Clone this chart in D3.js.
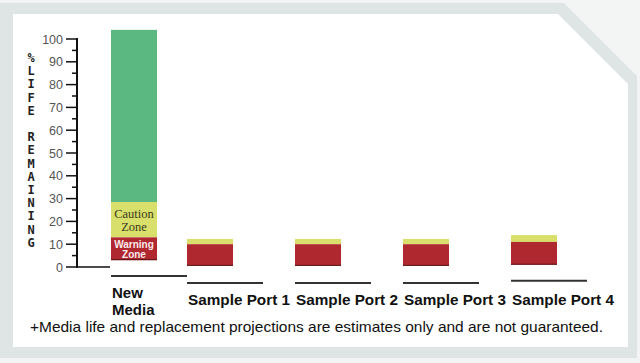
<!DOCTYPE html>
<html>
<head>
<meta charset="utf-8">
<script src="https://cdn.jsdelivr.net/npm/d3@7"></script>
<style>
  html, body { margin: 0; padding: 0; background: #f3f5f5; }
  svg { display: block; }
</style>
</head>
<body>
<div class="chart-container"></div>
<script>
// --- Data ---
const categories = ["New Media", "Sample Port 1", "Sample Port 2", "Sample Port 3", "Sample Port 4"];
// each bar floats: segment [start, end] in % life
const warningZone = [[3, 13], [0.5, 10], [0.5, 10], [0.5, 10], [1, 11]];
const cautionZone = [[13, 28.5], [10, 12.3], [10, 12.3], [10, 12.3], [11, 14]];
const healthyZone = [[28.5, 104], null, null, null, null];
// floor line under each bar (in % units, below zero)
const floorLevel = [-4, -7, -7, -7, -6];
const yTicks = [0, 10, 20, 30, 40, 50, 60, 70, 80, 90, 100];
const yMinorTicks = [5, 15, 25, 35, 45, 55, 65, 75, 85, 95];
const axisTitle = "%LIFE REMAINING";
const footnote = "+Media life and replacement projections are estimates only and are not guaranteed.";

// --- Config ---
const w = 640, h = 363;
const green = "#5bb880", yellow = "#d8df6b", red = "#b0282f";
const labelFont = "Liberation Sans, Arial, sans-serif";

const svg = d3.select(".chart-container").append("svg")
    .attr("width", w)
    .attr("height", h);

// frame
svg.append("polygon")
    .attr("points", "0,3 564,3 637,76 637,358 0,358")
    .attr("fill", "#dfe5e4");
svg.append("polygon")
    .attr("points", "13,14 558,14 628,84 628,347 13,347")
    .attr("fill", "#ffffff");

// scales
const yScale = d3.scaleLinear().domain([0, 100]).range([267, 39]);

const portScale = d3.scaleBand()
    .domain(categories.slice(1))
    .range([187, 557])
    .paddingInner(0.574)
    .paddingOuter(0);
const barW = portScale.bandwidth();
function xPos(c) {
    if (c === categories[0]) return portScale(categories[1]) - 76;
    return portScale(c);
}

// y axis
const axisX = 77;
const gAxis = svg.append("g");
gAxis.append("line")
    .attr("x1", axisX).attr("x2", axisX)
    .attr("y1", yScale(100) - 1).attr("y2", yScale(0) + 1)
    .attr("stroke", "#111").attr("stroke-width", 2);
gAxis.selectAll(".major")
    .data(yTicks)
    .enter()
    .append("line")
    .attr("x1", 66)
    .attr("x2", function (d) { return d === 0 ? 110 : axisX; })
    .attr("y1", function (d) { return yScale(d); })
    .attr("y2", function (d) { return yScale(d); })
    .attr("stroke", "#111").attr("stroke-width", 1.5);
gAxis.selectAll(".minor")
    .data(yMinorTicks)
    .enter()
    .append("line")
    .attr("x1", 72).attr("x2", axisX)
    .attr("y1", function (d) { return yScale(d); })
    .attr("y2", function (d) { return yScale(d); })
    .attr("stroke", "#111").attr("stroke-width", 1.5);
gAxis.selectAll(".lbl")
    .data(yTicks)
    .enter()
    .append("text")
    .text(function (d) { return d; })
    .attr("x", 63)
    .attr("y", function (d) { return yScale(d) + 4.5; })
    .attr("text-anchor", "end")
    .attr("font-family", labelFont)
    .attr("font-size", "12.5px")
    .attr("fill", "#555");

// stacked vertical axis title
const letters = axisTitle.split("");
svg.append("g").selectAll("text")
    .data(letters)
    .enter()
    .append("text")
    .text(function (d) { return d; })
    .attr("x", 31)
    .attr("y", function (d, i) { return 62 + i * 13.2; })
    .attr("text-anchor", "middle")
    .attr("font-family", "DejaVu Sans Mono, monospace")
    .attr("font-weight", "bold")
    .attr("font-size", "12px")
    .attr("fill", "#222");

// floor lines
svg.selectAll(".floor")
    .data(categories)
    .enter()
    .append("line")
    .attr("x1", function (d) { return xPos(d); })
    .attr("x2", function (d) { return xPos(d) + 76; })
    .attr("y1", function (d, i) { return yScale(floorLevel[i]); })
    .attr("y2", function (d, i) { return yScale(floorLevel[i]); })
    .attr("stroke", "#333").attr("stroke-width", 2);

// bar segments
function drawSegments(data, color) {
    svg.append("g").selectAll("rect")
        .data(data.map(function (s, i) { return { s: s, c: categories[i] }; })
            .filter(function (d) { return d.s; }))
        .enter()
        .append("rect")
        .attr("x", function (d) { return xPos(d.c); })
        .attr("y", function (d) { return yScale(d.s[1]); })
        .attr("width", barW)
        .attr("height", function (d) { return yScale(d.s[0]) - yScale(d.s[1]); })
        .attr("fill", color);
}
drawSegments(healthyZone, green);
drawSegments(cautionZone, yellow);
drawSegments(warningZone, red);

// dark bottom edge of each bar
svg.append("g").selectAll("line")
    .data(categories)
    .enter()
    .append("line")
    .attr("x1", function (d) { return xPos(d); })
    .attr("x2", function (d) { return xPos(d) + barW; })
    .attr("y1", function (d, i) { return yScale(warningZone[i][0]) - 0.5; })
    .attr("y2", function (d, i) { return yScale(warningZone[i][0]) - 0.5; })
    .attr("stroke", "#5a1518").attr("stroke-width", 1);

// zone labels on New Media bar
const nmX = xPos(categories[0]) + barW / 2;
const cMid = yScale((cautionZone[0][0] + cautionZone[0][1]) / 2);
const wMid = yScale((warningZone[0][0] + warningZone[0][1]) / 2);
[["Caution", cMid - 2], ["Zone", cMid + 11]].forEach(function (t) {
    svg.append("text").text(t[0])
        .attr("x", nmX).attr("y", t[1])
        .attr("text-anchor", "middle")
        .attr("font-family", "Liberation Serif, Times New Roman, serif")
        .attr("font-size", "12.5px")
        .attr("fill", "#3a3a1a");
});
[["Warning", wMid - 1], ["Zone", wMid + 9.5]].forEach(function (t) {
    svg.append("text").text(t[0])
        .attr("x", nmX).attr("y", t[1])
        .attr("text-anchor", "middle")
        .attr("font-family", labelFont)
        .attr("font-weight", "bold")
        .attr("font-size", "10px")
        .attr("fill", "#fbe9ea");
});

// category labels
svg.append("text").text("New")
    .attr("x", xPos(categories[0]) + 1).attr("y", 298)
    .attr("font-family", labelFont).attr("font-weight", "bold")
    .attr("font-size", "15px").attr("fill", "#111");
svg.append("text").text("Media")
    .attr("x", xPos(categories[0]) + 1).attr("y", 315)
    .attr("font-family", labelFont).attr("font-weight", "bold")
    .attr("font-size", "15px").attr("fill", "#111");
svg.append("g").selectAll("text")
    .data(categories.slice(1))
    .enter()
    .append("text")
    .text(function (d) { return d; })
    .attr("x", function (d) { return xPos(d) + 1; })
    .attr("y", 305)
    .attr("font-family", labelFont)
    .attr("font-weight", "bold")
    .attr("font-size", "15px")
    .attr("textLength", 102)
    .attr("lengthAdjust", "spacingAndGlyphs")
    .attr("fill", "#111");

// footnote
svg.append("text").text(footnote)
    .attr("x", 30).attr("y", 332)
    .attr("font-family", labelFont)
    .attr("font-size", "14.5px")
    .attr("textLength", 573)
    .attr("lengthAdjust", "spacingAndGlyphs")
    .attr("fill", "#111");
</script>
</body>
</html>
